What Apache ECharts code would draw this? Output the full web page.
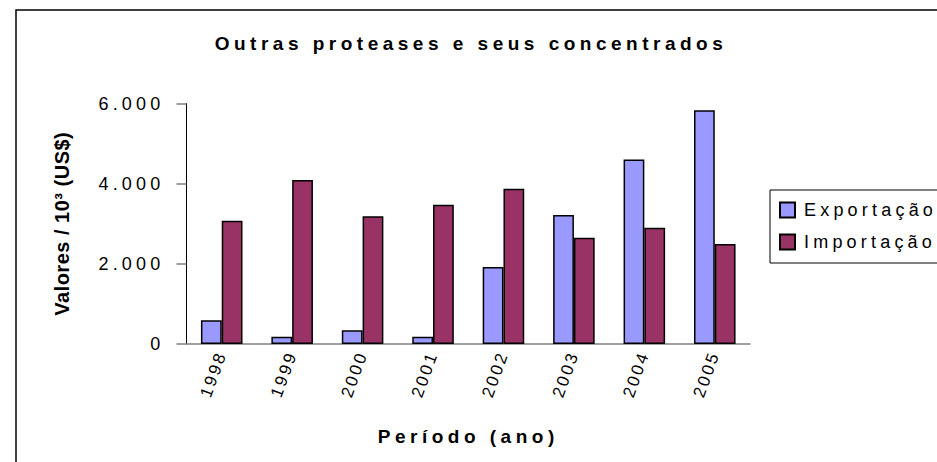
<!DOCTYPE html>
<html>
<head>
<meta charset="utf-8">
<title>Outras proteases e seus concentrados</title>
<script src="https://cdn.jsdelivr.net/npm/echarts@6/dist/echarts.min.js"></script>
<style>
    html, body { margin: 0; padding: 0; background: #fff; }
    #chart { width: 937px; height: 462px; }
    /* Excel-ish wide letter spacing, picked by font size */
    #chart text { letter-spacing: 4.2px; }
    #chart text[style*="17px"] { letter-spacing: 2.5px; }
    #chart text[style*="bold"][style*="19px"] { letter-spacing: 4.5px; }
    #chart text[style*="bold"][style*="20px"] { letter-spacing: 0.5px; }
</style>
</head>
<body>
<div id="chart"></div>
<script>
// Chart data
var anos = ['1998', '1999', '2000', '2001', '2002', '2003', '2004', '2005'];
var exportacao = [590, 180, 340, 180, 1920, 3220, 4600, 5830];
var importacao = [3075, 4090, 3185, 3475, 3875, 2650, 2900, 2495];
var yTicks = [0, 2000, 4000, 6000];

var chartDom = document.getElementById('chart');
var myChart = echarts.init(chartDom, null, { renderer: 'svg' });

// format 6000 -> 6.000
function fmtNum(v) {
    return String(v).replace(/\B(?=(\d{3})+(?!\d))/g, '.');
}

var fonte = '"Liberation Sans", Arial, sans-serif';

var option = {
    backgroundColor: '#fff',
    animation: false,
    textStyle: { fontFamily: fonte, color: '#000' },
    graphic: [
        {
            // outer chart frame (cut off at right / bottom)
            type: 'rect',
            shape: { x: 16, y: 10, width: 940, height: 480 },
            style: { fill: 'none', stroke: '#000', lineWidth: 1.5 },
            silent: true
        }
    ],
    title: {
        text: 'Outras proteases e seus concentrados',
        left: 466,
        textAlign: 'center',
        top: 29,
        textStyle: { fontFamily: fonte, fontSize: 19, fontWeight: 'bold', color: '#000' }
    },
    legend: {
        orient: 'vertical',
        left: 770,
        top: 190,
        padding: [11, 160, 12, 9],
        itemGap: 14,
        itemWidth: 15,
        itemHeight: 15,
        borderColor: '#000',
        borderWidth: 1,
        icon: 'rect',
        textStyle: { fontFamily: fonte, fontSize: 18, color: '#000', padding: [0, 0, 0, 4] },
        data: ['Exportação', 'Importação']
    },
    grid: {
        left: 186.5,
        right: 187,
        top: 103.5,
        bottom: 118,
        containLabel: false
    },
    xAxis: {
        type: 'category',
        data: anos,
        name: 'Período (ano)',
        nameLocation: 'middle',
        nameGap: 83,
        nameTextStyle: { fontFamily: fonte, fontSize: 19, fontWeight: 'bold', color: '#000' },
        axisLine: { lineStyle: { color: '#808080', width: 1.5 } },
        axisTick: { alignWithLabel: false, length: 6, lineStyle: { color: '#000', width: 1 } },
        axisLabel: { rotate: 70, margin: 8, fontSize: 17, color: '#000', fontFamily: fonte }
    },
    yAxis: {
        type: 'value',
        min: yTicks[0],
        max: yTicks[yTicks.length - 1],
        interval: yTicks[1] - yTicks[0],
        name: 'Valores / 10³ (US$)',
        nameLocation: 'middle',
        nameGap: 115,
        nameRotate: 90,
        nameTextStyle: { fontFamily: fonte, fontSize: 20, fontWeight: 'bold', color: '#000' },
        axisLine: { show: true, lineStyle: { color: '#000', width: 1 } },
        axisTick: { show: true, length: 10, lineStyle: { color: '#808080', width: 1.5 } },
        axisLabel: { margin: 22, fontSize: 18, color: '#000', fontFamily: fonte, formatter: fmtNum },
        splitLine: { show: false }
    },
    series: [
        {
            name: 'Exportação',
            type: 'bar',
            data: exportacao,
            barGap: '0%',
            barCategoryGap: '41%',
            itemStyle: { color: '#9999FF', borderColor: '#000', borderWidth: 1.5 }
        },
        {
            name: 'Importação',
            type: 'bar',
            data: importacao,
            barGap: '0%',
            barCategoryGap: '41%',
            itemStyle: { color: '#993366', borderColor: '#000', borderWidth: 1.5 }
        }
    ]
};

myChart.setOption(option);
</script>
</body>
</html>
